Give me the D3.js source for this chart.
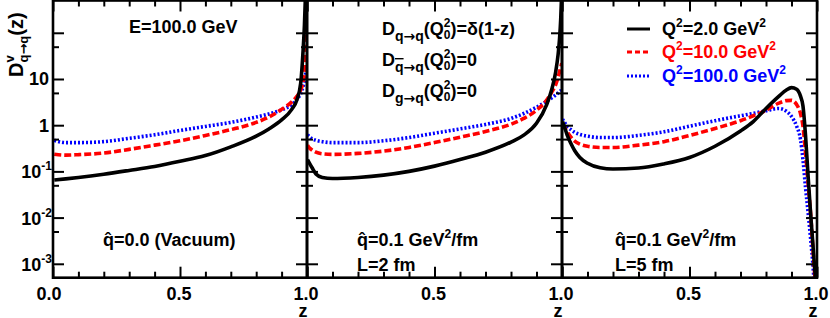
<!DOCTYPE html>
<html>
<head>
<meta charset="utf-8">
<script src="https://cdn.jsdelivr.net/npm/d3@7"></script>
<style>
body { margin: 0; background: #fff; }
svg { display: block; font-family: "Liberation Sans", Arial, Helvetica, sans-serif; font-weight: bold; }
</style>
</head>
<body>
<div id="chart"></div>
<script>

// panel 1 : vacuum
var zVac   = [0.005, 0.05, 0.1, 0.2, 0.3, 0.4, 0.5, 0.6, 0.7, 0.8, 0.85, 0.9, 0.94, 0.96, 0.975, 0.985, 0.99, 0.995, 0.999];
var vacQ2  = [0.065, 0.069, 0.074, 0.087, 0.105, 0.128, 0.165, 0.22, 0.34, 0.58, 0.83, 1.3, 2.2, 3.5, 8, 45, 150, 1000, 5000];
var vacQ10 = [0.235, 0.225, 0.23, 0.25, 0.3, 0.37, 0.46, 0.6, 0.8, 1.15, 1.5, 2.2, 3.2, 4.2, 5.8, 9, 14, 60, 150];
var vacQ100= [0.47, 0.42, 0.42, 0.44, 0.52, 0.62, 0.77, 0.94, 1.15, 1.5, 1.75, 2.15, 2.8, 3.6, 4.8, 7, 9, 13, 20];

// panel 2 : qhat=0.1, L=2 fm
var zL2    = [0.002, 0.01, 0.02, 0.035, 0.06, 0.1, 0.2, 0.3, 0.4, 0.5, 0.6, 0.7, 0.8, 0.85, 0.9, 0.94, 0.96, 0.975, 0.985, 0.99, 0.995, 0.999];
var l2Q2   = [0.18, 0.15, 0.12, 0.088, 0.074, 0.07, 0.074, 0.083, 0.1, 0.13, 0.18, 0.26, 0.43, 0.61, 1.1, 2.8, 6, 14, 35, 70, 200, 800];
var l2Q10  = [0.37, 0.32, 0.29, 0.26, 0.24, 0.233, 0.245, 0.275, 0.33, 0.42, 0.55, 0.73, 1.05, 1.4, 2.1, 3.5, 5.2, 7.5, 11, 14, 18, 22];
var l2Q100 = [0.62, 0.56, 0.51, 0.47, 0.44, 0.42, 0.42, 0.46, 0.54, 0.67, 0.83, 1.04, 1.4, 1.79, 2.45, 3.3, 3.9, 4.5, 5.0, 5.3, 5.6, 6];

// panel 3 : qhat=0.1, L=5 fm
var zL5    = [0.002, 0.01, 0.02, 0.035, 0.05, 0.07, 0.1, 0.15, 0.2, 0.3, 0.4, 0.5, 0.6, 0.7, 0.75, 0.8, 0.85, 0.88, 0.9, 0.92, 0.935, 0.945, 0.955, 0.965, 0.975, 0.985, 0.99, 0.995];
var l5Q2   = [1.2, 0.9, 0.62, 0.4, 0.28, 0.2, 0.15, 0.12, 0.113, 0.118, 0.145, 0.2, 0.35, 0.75, 1.2, 2.3, 4.2, 5.8, 6.5, 6.0, 4.3, 2.6, 0.6, 0.08, 0.012, 0.0022, 0.0009, 0.0004];
var l5Q10  = [1.05, 0.9, 0.72, 0.55, 0.45, 0.39, 0.35, 0.33, 0.33, 0.37, 0.44, 0.6, 0.85, 1.25, 1.6, 2.1, 3.0, 3.4, 3.45, 2.8, 1.8, 0.95, 0.25, 0.055, 0.012, 0.0018, 0.0007, 0.0003];
var l5Q100 = [1.35, 1.15, 0.95, 0.8, 0.7, 0.63, 0.58, 0.54, 0.54, 0.6, 0.72, 0.95, 1.25, 1.6, 1.8, 2.05, 2.3, 2.0, 1.55, 0.95, 0.5, 0.18, 0.045, 0.013, 0.0035, 0.0008, 0.0003, 0.0001];

var legendValues = ["2.0", "10.0", "100.0"];
var xMajor = [0, 0.5, 1];
var xMinor = [0.1, 0.2, 0.3, 0.4, 0.6, 0.7, 0.8, 0.9];
var yMajor = [1e-3, 1e-2, 1e-1, 1, 10, 100];
var yMinor = [5e-3, 5e-2, 0.5, 5, 50];
var yLabelExp = [-3, -2, -1];

var width = 830, height = 318;
var plotTop = 0.5, plotBottom = 277.7;
var panelEdges = [[53, 307], [307, 562], [562, 817]];
var colors = ["#000000", "#ff0000", "#0000ff"];
var dashes = [null, "7,3", "2,2"];
var arrowFont = "DejaVu Sans";

var panels = [
	{ z: zVac, sets: [vacQ2, vacQ10, vacQ100] },
	{ z: zL2, sets: [l2Q2, l2Q10, l2Q100] },
	{ z: zL5, sets: [l5Q2, l5Q10, l5Q100] }
];

var svg = d3.select("#chart").append("svg")
	.attr("width", width)
	.attr("height", height);

var y = d3.scaleLog().domain([5e-4, 500]).range([plotBottom, plotTop]);

panels.forEach(function(p, i) {
	var x0 = panelEdges[i][0], x1 = panelEdges[i][1];
	var x = d3.scaleLinear().domain([0, 1]).range([x0, x1]);

	svg.append("clipPath").attr("id", "clip" + i)
		.append("rect").attr("x", x0).attr("y", plotTop)
		.attr("width", x1 - x0).attr("height", plotBottom - plotTop);

	var line = d3.line()
		.x(function(d) { return x(d[0]); })
		.y(function(d) { return y(d[1]); })
		.curve(d3.curveMonotoneX);

	var g = svg.append("g").attr("clip-path", "url(#clip" + i + ")");
	// blue first, black last
	[2, 1, 0].forEach(function(k) {
		var pts = p.z.map(function(z, j) { return [z, p.sets[k][j]]; });
		g.append("path")
			.datum(pts)
			.attr("d", line)
			.attr("fill", "none")
			.attr("stroke", colors[k])
			.attr("stroke-width", 3.6)
			.attr("stroke-dasharray", dashes[k]);
	});

	// ticks on all four sides, pointing inwards
	function ax(axis, tx, ty) {
		var a = svg.append("g").attr("transform", "translate(" + tx + "," + ty + ")")
			.call(axis.tickSizeOuter(0).tickFormat(""));
		a.select(".domain").remove();
		a.selectAll("line").attr("stroke", "#000").attr("stroke-width", 2);
	}
	ax(d3.axisTop(x).tickValues(xMajor).tickSizeInner(11), 0, plotBottom);
	ax(d3.axisTop(x).tickValues(xMinor).tickSizeInner(6), 0, plotBottom);
	ax(d3.axisBottom(x).tickValues(xMajor).tickSizeInner(11), 0, plotTop);
	ax(d3.axisBottom(x).tickValues(xMinor).tickSizeInner(6), 0, plotTop);
	ax(d3.axisRight(y).tickValues(yMajor).tickSizeInner(11), x0, 0);
	ax(d3.axisRight(y).tickValues(yMinor).tickSizeInner(6), x0, 0);
	ax(d3.axisLeft(y).tickValues(yMajor).tickSizeInner(11), x1, 0);
	ax(d3.axisLeft(y).tickValues(yMinor).tickSizeInner(6), x1, 0);

	svg.append("rect")
		.attr("x", x0).attr("y", plotTop)
		.attr("width", x1 - x0).attr("height", plotBottom - plotTop)
		.attr("fill", "none").attr("stroke", "#000").attr("stroke-width", 2.6);

	// x labels
	var labs = i === 0 ? [0, 0.5, 1] : [0.5, 1];
	labs.forEach(function(v) {
		svg.append("text")
			.attr("x", x(v) - (v === 0 ? 4 : 1)).attr("y", 300)
			.attr("text-anchor", "middle")
			.attr("font-size", 18)
			.text(d3.format(".1f")(v));
	});
	svg.append("text")
		.attr("x", x(1) - 4).attr("y", 317)
		.attr("text-anchor", "middle")
		.attr("font-size", 18)
		.text("z");
});

// y labels
yLabelExp.forEach(function(e) {
	var t = svg.append("text")
		.attr("x", 52).attr("y", y(Math.pow(10, e)) + 7)
		.attr("text-anchor", "end")
		.attr("font-size", 18);
	t.append("tspan").text("10");
	t.append("tspan").attr("font-size", 12).attr("dy", -8).text(e);
});
[1, 10].forEach(function(v) {
	svg.append("text")
		.attr("x", 49).attr("y", y(v) + 6.5)
		.attr("text-anchor", "end")
		.attr("font-size", 18)
		.text(v);
});

// y title
var yt = svg.append("text")
	.attr("transform", "translate(23,77) rotate(-90)")
	.attr("font-size", 20);
yt.append("tspan").text("D");
yt.append("tspan").attr("font-size", 13).attr("dy", -9).text("v");
yt.append("tspan").attr("font-size", 13).attr("dx", -7.2).attr("dy", 14).text("q");
yt.append("tspan").attr("font-size", 13).attr("font-family", arrowFont).text("\u2192");
yt.append("tspan").attr("font-size", 13).text("q");
yt.append("tspan").attr("dy", -5).text("(z)");

function txt(xp, yp, parts, color) {
	var t = svg.append("text").attr("x", xp).attr("y", yp)
		.attr("font-size", 18).attr("fill", color || "#000");
	parts.forEach(function(s) {
		var ts = t.append("tspan").text(s.t);
		if (s.size) ts.attr("font-size", s.size);
		if (s.dx) ts.attr("dx", s.dx);
		if (s.dy) ts.attr("dy", s.dy);
		if (s.fam) ts.attr("font-family", s.fam);
		if (s.over) ts.style("text-decoration", "overline");
	});
	return t;
}

// panel 1 notes
txt(129, 33, [{ t: "E=100.0 GeV" }]);
txt(103, 246, [{ t: "q\u0302=0.0 (Vacuum)" }]);

// panel 2 notes
var eqSub = ["q", "q", "g"];
var eqRhs = [")=\u03b4(1-z)", ")=0", ")=0"];
var eqY = [35, 66, 97];
eqSub.forEach(function(s, j) {
	txt(382, eqY[j], [
		{ t: "D" },
		{ t: s, size: 14, dy: 6, over: j === 1 },
		{ t: "\u2192", size: 14, fam: arrowFont },
		{ t: "q", size: 14 },
		{ t: "(Q", dy: -6 },
		{ t: "2", size: 12, dy: -8 },
		{ t: "0", size: 12, dx: -6.7, dy: 12 },
		{ t: eqRhs[j], dy: -4 }
	]);
});
[[357, "L=2 fm"], [615, "L=5 fm"]].forEach(function(n) {
	txt(n[0], 246, [{ t: "q\u0302=0.1 GeV" }, { t: "2", size: 12, dy: -8 }, { t: "/fm", dy: 8 }]);
	txt(n[0], 270.5, [{ t: n[1] }]);
});

// legend
var legY = [29, 52, 76];
legendValues.forEach(function(v, k) {
	svg.append("line")
		.attr("x1", 627).attr("x2", 650)
		.attr("y1", legY[k]).attr("y2", legY[k])
		.attr("stroke", colors[k]).attr("stroke-width", 3)
		.attr("stroke-dasharray", k === 1 ? "5,3" : dashes[k]);
	txt(662, legY[k] + 6, [
		{ t: "Q" },
		{ t: "2", size: 12, dy: -8 },
		{ t: "=" + v + " GeV", dy: 8 },
		{ t: "2", size: 12, dy: -8 }
	], colors[k]);
});

</script>
</body>
</html>
